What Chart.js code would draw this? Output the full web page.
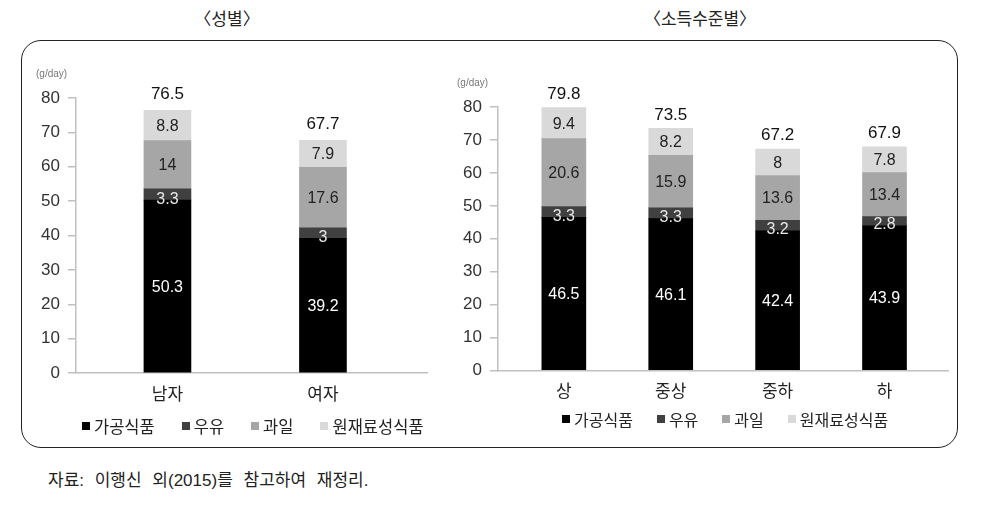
<!DOCTYPE html>
<html>
<head>
<meta charset="utf-8">
<script src="https://cdn.jsdelivr.net/npm/chart.js@4"></script>
<style>
  body { margin: 0; width: 999px; height: 512px; position: relative; overflow: hidden; background: #fff;
         font-family: 'Liberation Sans', 'Noto Sans CJK KR', sans-serif; }
  .title { position: absolute; top: 5px; font-size: 17px; color: #222; transform: translateX(-50%); white-space: nowrap; }
  .frame { position: absolute; left: 21px; top: 40px; width: 935px; height: 406px; border: 1.5px solid #222; border-radius: 20px; }
  .unit { position: absolute; font-size: 10px; color: #777; }
  .chartbox { position: absolute; top: 41px; }
  .legend { position: absolute; display: flex; align-items: center; height: 20px; font-size: 16px; color: #222; white-space: nowrap; }
  .legend .item { display: flex; align-items: center; margin-right: 24px; }
  .legend .item:last-child { margin-right: 0; }
  .legend .swatch { width: 8px; height: 8px; margin-right: 4px; }
  #legend1 { font-size: 16.5px; }
  #legend1 .item { margin-right: 27px; }
  #legend1 .item:last-child { margin-right: 0; }
  .source { position: absolute; left: 48px; top: 466px; font-size: 17px; color: #222; word-spacing: 6px; white-space: nowrap; }
</style>
</head>
<body>
<div class="title" style="left:227px">〈성별〉</div>
<div class="title" style="left:700px">〈소득수준별〉</div>
<div class="frame"></div>
<div class="chartbox" style="left:22px"><canvas id="chart1" width="420" height="406"></canvas></div>
<div class="chartbox" style="left:442px"><canvas id="chart2" width="514" height="406"></canvas></div>
<div class="unit" style="left:36px; top:68px">(g/day)</div>
<div class="unit" style="left:457px; top:77px">(g/day)</div>
<div class="legend" id="legend1" style="left:82px; top:416px"></div>
<div class="legend" id="legend2" style="left:562px; top:409px"></div>
<div class="source">자료: 이행신 외(2015)를 참고하여 재정리.</div>

<script>
const FONT = "'Liberation Sans', 'Noto Sans CJK KR', sans-serif";

const legendNames = ['가공식품', '우유', '과일', '원재료성식품'];
const barColors = ['#000000', '#404040', '#a6a6a6', '#d9d9d9'];
const textColors = ['#ffffff', '#e8e8e8', '#222222', '#222222'];

// 성별
const genderLabels = ['남자', '여자'];
const genderProcessed = [50.3, 39.2];
const genderMilk = [3.3, 3];
const genderFruit = [14, 17.6];
const genderRaw = [8.8, 7.9];
const genderTotal = [76.5, 67.7];

// 소득수준별
const incomeLabels = ['상', '중상', '중하', '하'];
const incomeProcessed = [46.5, 46.1, 42.4, 43.9];
const incomeMilk = [3.3, 3.3, 3.2, 2.8];
const incomeFruit = [20.6, 15.9, 13.6, 13.4];
const incomeRaw = [9.4, 8.2, 8, 7.8];
const incomeTotal = [79.8, 73.5, 67.2, 67.9];

Chart.defaults.font.family = FONT;

// numbers inside the segments and the totals on top
const valueLabels = {
    id: 'valueLabels',
    afterDatasetsDraw(chart, args, opts) {
        const ctx = chart.ctx;
        ctx.save();
        ctx.textAlign = 'center';
        ctx.textBaseline = 'middle';
        ctx.font = '16px ' + FONT;
        chart.data.datasets.forEach((ds, di) => {
            const meta = chart.getDatasetMeta(di);
            meta.data.forEach((bar, i) => {
                // the thin 우유 segment has its number sitting on its lower edge
                const y = di === 1 ? bar.base - 1 : (bar.y + bar.base) / 2 + 1;
                ctx.fillStyle = textColors[di];
                ctx.fillText(String(ds.data[i].y), bar.x, y);
            });
        });
        const topMeta = chart.getDatasetMeta(chart.data.datasets.length - 1);
        ctx.font = '17px ' + FONT;
        ctx.fillStyle = '#111';
        opts.totals.forEach((t, i) => {
            const bar = topMeta.data[i];
            ctx.fillText(t.toFixed(1), bar.x, bar.y - opts.gap);
        });
        ctx.restore();
    }
};

// legend as html, built from the chart's own legend items
const htmlLegend = {
    id: 'htmlLegend',
    afterUpdate(chart, args, opts) {
        const box = document.getElementById(opts.containerID);
        box.innerHTML = '';
        const items = chart.options.plugins.legend.labels.generateLabels(chart);
        items.forEach(item => {
            const el = document.createElement('span');
            el.className = 'item';
            const sw = document.createElement('span');
            sw.className = 'swatch';
            sw.style.background = item.fillStyle;
            el.appendChild(sw);
            el.appendChild(document.createTextNode(item.text));
            box.appendChild(el);
        });
    }
};

const makeChart = (canvas, labels, series, totals, o) => {
    const datasets = series.map((values, si) => ({
        label: legendNames[si],
        data: values.map((v, i) => ({x: i, y: v})),
        backgroundColor: barColors[si],
        borderWidth: 0,
        barThickness: o.barW
    }));

    const config = {
        type: 'bar',
        data: {datasets: datasets},
        plugins: [valueLabels, htmlLegend],
        options: {
            responsive: false,
            animation: false,
            layout: {padding: {top: o.padTop, right: o.padRight, bottom: o.padBottom, left: 0}},
            scales: {
                x: {
                    type: 'linear',
                    min: o.xMin,
                    max: o.xMax,
                    stacked: true,
                    offset: false,
                    grid: {display: false, drawTicks: false},
                    border: {display: true, color: '#c0c0c0', width: 1.5},
                    afterBuildTicks: s => { s.ticks = labels.map((_, i) => ({value: i})); },
                    afterFit: s => { s.height = 40; },
                    ticks: {
                        padding: o.xPad,
                        color: '#222',
                        font: {size: 17},
                        maxRotation: 0,
                        autoSkip: false,
                        callback: v => labels[v]
                    }
                },
                y: {
                    stacked: true,
                    min: 0,
                    max: 80,
                    grid: {drawOnChartArea: false, drawTicks: true, tickLength: 8, color: '#c0c0c0', lineWidth: 1.5},
                    border: {color: '#c0c0c0', width: 1.5},
                    afterFit: s => { s.width = o.axisX; },
                    ticks: {stepSize: 10, padding: 8, color: '#333', font: {size: 17}}
                }
            },
            plugins: {
                tooltip: {enabled: false},
                legend: {display: false},
                valueLabels: {totals: totals, gap: o.gap},
                htmlLegend: {containerID: o.legendId}
            }
        }
    };
    new Chart(canvas, config);
};

makeChart(document.querySelector('#chart1'), genderLabels,
    [genderProcessed, genderMilk, genderFruit, genderRaw], genderTotal,
    {barW: 47, xMin: -0.588, xMax: 1.669, axisX: 54, padTop: 57, padRight: 15, padBottom: 34, xPad: 12, gap: 16, legendId: 'legend1'});

makeChart(document.querySelector('#chart2'), incomeLabels,
    [incomeProcessed, incomeMilk, incomeFruit, incomeRaw], incomeTotal,
    {barW: 44, xMin: -0.616, xMax: 3.594, axisX: 56, padTop: 66, padRight: 8, padBottom: 36.5, xPad: 11.5, gap: 13.5, legendId: 'legend2'});
</script>
</body>
</html>
